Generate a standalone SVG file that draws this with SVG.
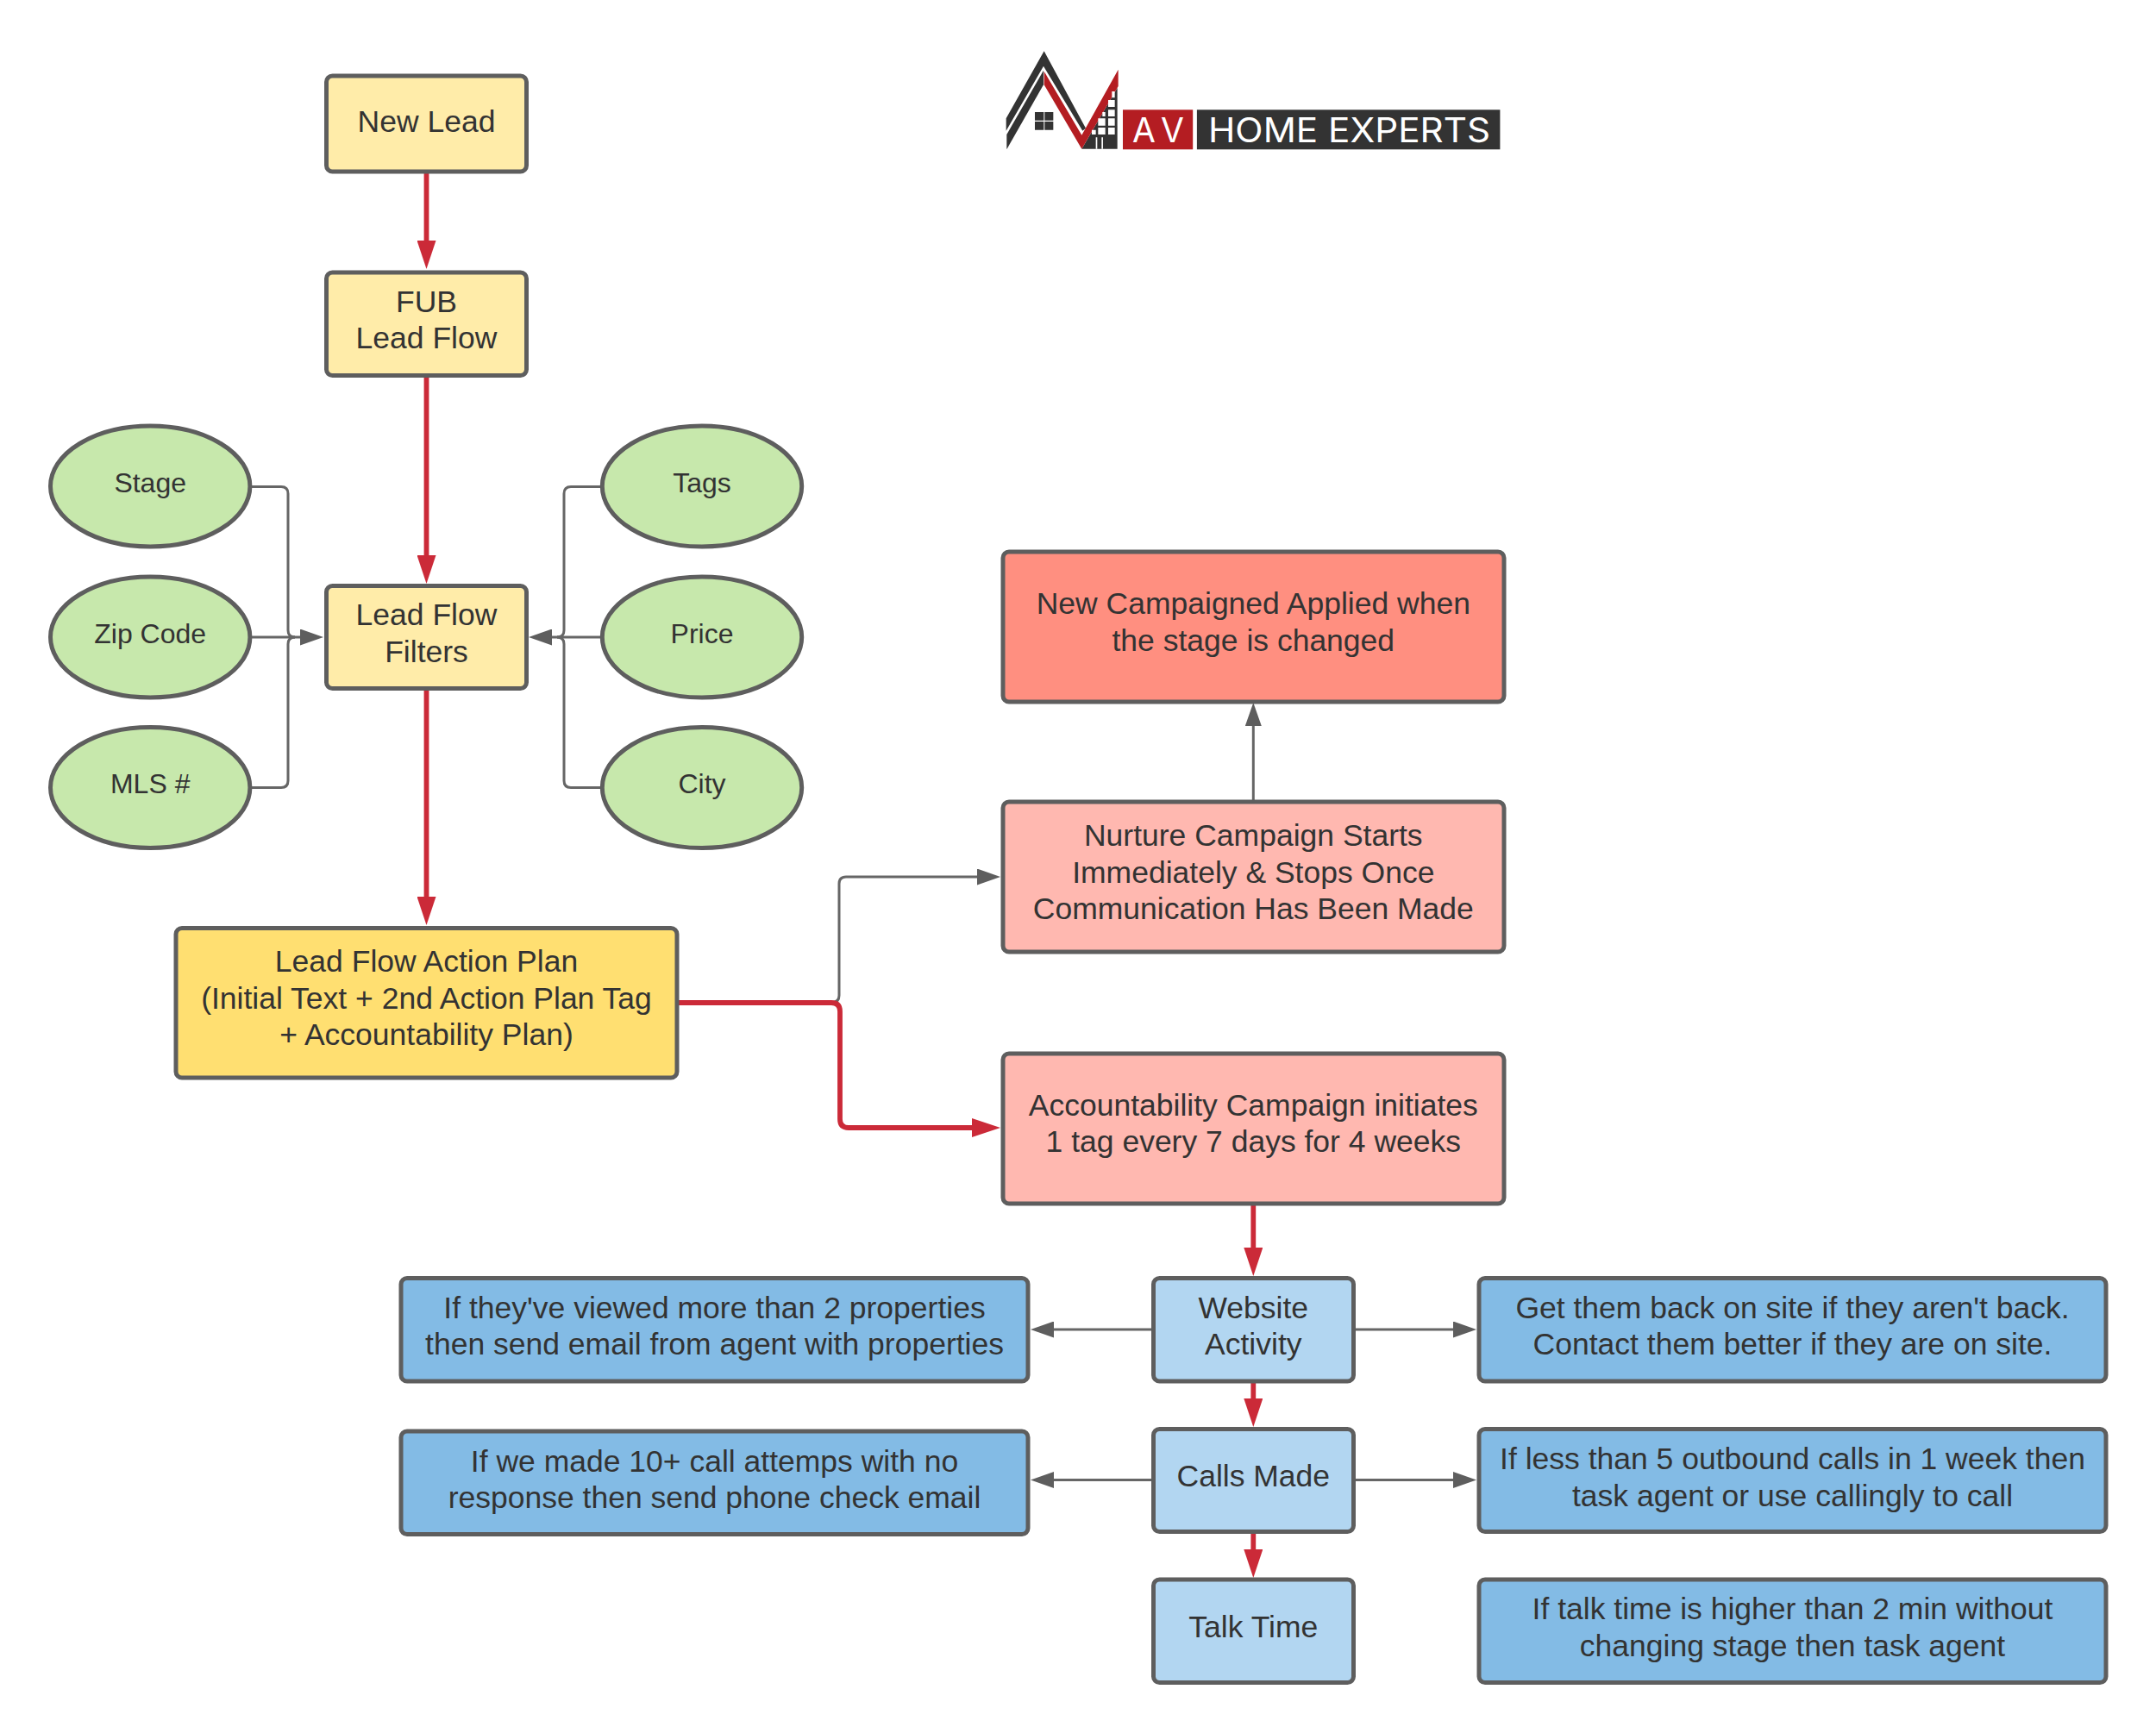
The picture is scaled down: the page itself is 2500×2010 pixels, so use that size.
<svg xmlns="http://www.w3.org/2000/svg" width="2500" height="2010" viewBox="0 0 2500 2010">
<style>
text{font-family:"Liberation Sans",Arial,sans-serif;fill:#333;font-size:35.500px;text-anchor:middle}
.n rect,.n ellipse{stroke:#5e5e5e;stroke-width:5}
.y rect{fill:#ffeca9}
.g ellipse{fill:#c7e8ac}
.g text{font-size:32px}
.p rect{fill:#ffb8b0}
.b rect{fill:#b2d6f1}
.d rect{fill:#83bbe5}
.r{fill:none;stroke:#cb2a38;stroke-width:5.8;stroke-linejoin:round;marker-end:url(#ar)}
.k{fill:none;stroke:#666;stroke-width:3;marker-end:url(#ak)}
.k2{fill:none;stroke:#666;stroke-width:3}
#logo text{fill:#fff;font-family:"Inter","Liberation Sans",sans-serif;font-size:39px;text-anchor:start}
</style>
<defs>
<marker id="ar" markerUnits="userSpaceOnUse" markerWidth="33" markerHeight="22" refX="13" refY="11" orient="auto"><path d="M0,0L33,11L0,22Z" fill="#cb2a38"/></marker>
<marker id="ak" markerUnits="userSpaceOnUse" markerWidth="27" markerHeight="19" refX="7" refY="9.500" orient="auto"><path d="M0,0L27,9.500L0,19Z" fill="#5e5e5e"/></marker>
</defs>
<rect width="2500" height="2010" fill="#fff"/>
<g id="connectors">
<path class="r" d="M494.500 199V292"/>
<path class="r" d="M494.500 436V657"/>
<path class="r" d="M494.500 800V1053"/>
<path class="k2" d="M290 564.500H326Q334 564.500 334 572.500V731Q334 739 342 739"/>
<path class="k2" d="M290 913.500H326Q334 913.500 334 905.500V747Q334 739 342 739"/>
<path class="k" d="M290 739H355"/>
<path class="k2" d="M697 564.500H662Q654 564.500 654 572.500V731Q654 739 646 739"/>
<path class="k2" d="M697 913.500H662Q654 913.500 654 905.500V747Q654 739 646 739"/>
<path class="k" d="M697 739H633"/>
<path class="k" d="M785 1162.500H965Q973 1162.500 973 1154.500V1025Q973 1017 981 1017H1140"/>
<path class="r" d="M785 1163H964Q974 1163 974 1173V1298Q974 1308 984 1308H1140"/>
<path class="k" d="M1453.300 929V835"/>
<path class="r" d="M1453.300 1395V1460"/>
<path class="r" d="M1453.300 1602V1635"/>
<path class="r" d="M1453.300 1777V1810"/>
<path class="k" d="M1336 1542H1215"/>
<path class="k" d="M1570 1542H1692"/>
<path class="k" d="M1336 1716.500H1215"/>
<path class="k" d="M1570 1716.500H1692"/>
</g>
<g id="new-lead" class="n y"><rect x="378.500" y="88" width="232" height="111" rx="7"/><text x="494.500" y="152.500">New Lead</text></g>
<g id="fub" class="n y"><rect x="378.500" y="316" width="232" height="119.500" rx="7"/><text x="494.500" y="362">FUB</text><text x="494.500" y="404">Lead Flow</text></g>
<g id="filters" class="n y"><rect x="378.500" y="679.500" width="232" height="119" rx="7"/><text x="494.500" y="725">Lead Flow</text><text x="494.500" y="768">Filters</text></g>
<g id="action-plan" class="n"><rect x="204" y="1076.500" width="581" height="173.500" rx="7" fill="#ffdf71"/><text x="494.500" y="1127">Lead Flow Action Plan</text><text x="494.500" y="1169.500">(Initial Text + 2nd Action Plan Tag</text><text x="494.500" y="1212">+ Accountability Plan)</text></g>
<g id="stage" class="n g"><ellipse cx="174.200" cy="564" rx="115.700" ry="70"/><text x="174.200" y="570.800">Stage</text></g>
<g id="zip" class="n g"><ellipse cx="174.200" cy="739" rx="115.700" ry="70"/><text x="174.200" y="745.500">Zip Code</text></g>
<g id="mls" class="n g"><ellipse cx="174.200" cy="913.500" rx="115.700" ry="70"/><text x="174.200" y="920">MLS #</text></g>
<g id="tags" class="n g"><ellipse cx="814" cy="564" rx="115.700" ry="70"/><text x="814" y="570.800">Tags</text></g>
<g id="price" class="n g"><ellipse cx="814" cy="739" rx="115.700" ry="70"/><text x="814" y="745.500">Price</text></g>
<g id="city" class="n g"><ellipse cx="814" cy="913.500" rx="115.700" ry="70"/><text x="814" y="920">City</text></g>
<g id="new-campaign" class="n"><rect x="1163" y="640" width="581" height="174" rx="7" fill="#ff8f80"/><text x="1453.300" y="712">New Campaigned Applied when</text><text x="1453.300" y="755">the stage is changed</text></g>
<g id="nurture" class="n p"><rect x="1163" y="930" width="581" height="174" rx="7"/><text x="1453.300" y="981">Nurture Campaign Starts</text><text x="1453.300" y="1024">Immediately &amp; Stops Once</text><text x="1453.300" y="1066">Communication Has Been Made</text></g>
<g id="accountability" class="n p"><rect x="1163" y="1222" width="581" height="174" rx="7"/><text x="1453.300" y="1294">Accountability Campaign initiates</text><text x="1453.300" y="1336">1 tag every 7 days for 4 weeks</text></g>
<g id="website" class="n b"><rect x="1337.500" y="1482.500" width="232" height="119.500" rx="7"/><text x="1453.300" y="1528.500">Website</text><text x="1453.300" y="1571">Activity</text></g>
<g id="calls" class="n b"><rect x="1337.500" y="1657.500" width="232" height="119" rx="7"/><text x="1453.300" y="1724">Calls Made</text></g>
<g id="talk" class="n b"><rect x="1337.500" y="1832" width="232" height="119.500" rx="7"/><text x="1453.300" y="1899">Talk Time</text></g>
<g id="l1" class="n d"><rect x="465" y="1482.500" width="727" height="119.500" rx="7"/><text x="828.500" y="1528.500">If they've viewed more than 2 properties</text><text x="828.500" y="1571">then send email from agent with properties</text></g>
<g id="l2" class="n d"><rect x="465" y="1660" width="727" height="119.500" rx="7"/><text x="828.500" y="1707">If we made 10+ call attemps with no</text><text x="828.500" y="1749">response then send phone check email</text></g>
<g id="r1" class="n d"><rect x="1715" y="1482.500" width="727" height="119.500" rx="7"/><text x="2078.500" y="1528.500">Get them back on site if they aren't back.</text><text x="2078.500" y="1571">Contact them better if they are on site.</text></g>
<g id="r2" class="n d"><rect x="1715" y="1657.500" width="727" height="119" rx="7"/><text x="2078.500" y="1704">If less than 5 outbound calls in 1 week then</text><text x="2078.500" y="1746.500">task agent or use callingly to call</text></g>
<g id="r3" class="n d"><rect x="1715" y="1832" width="727" height="119.500" rx="7"/><text x="2078.500" y="1878">If talk time is higher than 2 min without</text><text x="2078.500" y="1921">changing stage then task agent</text></g>
<g id="logo">
<g transform="translate(1160 50) scale(.3333)">
<path fill="#333" d="M152 28L20 262V305L150 80L286 305L297 296Z"/>
<path fill="#333" d="M150 95L22 318V370L150 145Z"/>
<path fill="#333" d="M407 155V368H283Z"/>
<path fill="#b41d22" d="M152 98L283 320L410 92V150L283 368L152 145Z"/>
<path fill="#fff" d="M388 168h10v22h-10zM375 198h23v24h-23zM375 232h23v23h-23zM355 240h10v15h-10zM340 262h25v25h-25zM375 262h23v25h-23zM340 294h25v24h-25zM375 294h23v24h-23zM318 302h14v16h-14zM332 328h5v40h-5zM352 328h5v40h-5z"/>
<path fill="#333" d="M120 240h31v29h-31zM154 240h30v29h-30zM120 273h31v29h-31zM154 273h30v29h-30z"/>
</g>
<rect x="1302" y="127.300" width="81.200" height="46" fill="#b41d22"/>
<rect x="1387.900" y="127.300" width="351.500" height="46" fill="#333"/>
<text x="1313" y="165" textLength="60" lengthAdjust="spacing">AV</text>
<text x="1401" y="165" textLength="327" lengthAdjust="spacingAndGlyphs">HOME EXPERTS</text>
</g>
</svg>
